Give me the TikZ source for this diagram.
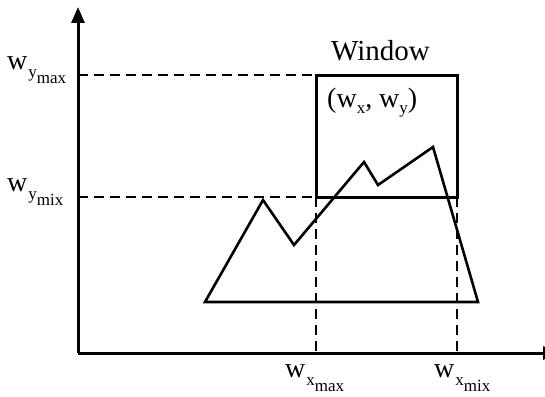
\documentclass[tikz,border=0pt]{standalone}
\usepackage{fontspec}
\setmainfont{Liberation Serif}
\usetikzlibrary{arrows.meta}
\newcommand{\bigfont}{\fontsize{28}{30}\selectfont}
\newcommand{\winfont}{\fontsize{29}{31}\selectfont}
\newcommand{\subfont}{\fontsize{17}{18}\selectfont}
\newcommand{\wlab}[2]{{\bigfont w}{\subfont\kern1pt\raisebox{-8pt}{#1\raisebox{-6pt}{#2}}}}
\begin{document}
\begin{tikzpicture}[x=1pt,y=-1pt,
  axis/.style={line width=3pt,-{Triangle[length=16pt,width=13pt]}},
  dashline/.style={line width=2.2pt,dash pattern=on 10pt off 6pt},
  winbox/.style={line width=3pt},
  poly/.style={line width=2.6pt,line join=miter},
  lab/.style={inner sep=0pt,anchor=base west}]
\useasboundingbox (0,0) rectangle (545,396);
\coordinate (O) at (78,353);
\coordinate (ytip) at (78,7);
\coordinate (xtip) at (559,353);
\draw[axis] (O) -- (ytip);
\draw[axis] (O) -- (xtip);
% window
\coordinate (wtl) at (316,75);
\coordinate (wbr) at (457,197);
\coordinate (ymaxax) at (78,75);
\coordinate (yminax) at (78,197);
\coordinate (wbl) at (316,197);
\coordinate (xmaxax) at (316,353);
\coordinate (xminax) at (457,353);
\draw[dashline] (ymaxax) -- (wtl);
\draw[dashline] (yminax) -- (wbl);
\draw[dashline] (wbl) -- (xmaxax);
\draw[dashline] (wbr) -- (xminax);
% polygon
\coordinate (p1) at (205,302);
\coordinate (p2) at (263,200);
\coordinate (p3) at (294,245);
\coordinate (p4) at (364,162);
\coordinate (p5) at (378,185);
\coordinate (p6) at (433,147);
\coordinate (p7) at (478,302);
\draw[poly] (p1) -- (p2) -- (p3) -- (p4) -- (p5) -- (p6) -- (p7) -- cycle;
\draw[winbox] (wtl) rectangle (wbr);
% labels
\node[lab] (lymax) at (7,69) {\wlab{y}{max}};
\node[lab] (lymin) at (7,191) {\wlab{y}{mix}};
\node[lab] (lxmax) at (285,377) {\wlab{x}{max}};
\node[lab] (lxmin) at (434,377) {\wlab{x}{mix}};
\node[lab] (win) at (331,60) {\winfont Window};
\node[lab] (wxy) at (327,107) {\bigfont (w{\subfont\raisebox{-6pt}{x}}, w{\subfont\raisebox{-6pt}{y}})};
\end{tikzpicture}
\end{document}
